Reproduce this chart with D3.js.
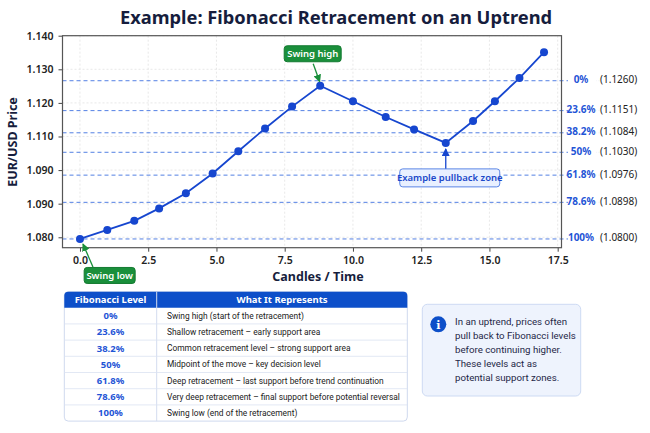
<!DOCTYPE html>
<html>
<head>
<meta charset="utf-8">
<script src="https://cdn.jsdelivr.net/npm/d3@7"></script>
<style>
  html, body { margin: 0; padding: 0; background: #ffffff; }
  svg { display: block; font-family: "Noto Sans", "Open Sans", sans-serif; }
</style>
</head>
<body>
<svg id="chart" width="650" height="433"></svg>
<script>
// ---------- DATA ----------
const candleX = [0, 1.0, 1.99, 2.9, 3.88, 4.86, 5.8, 6.78, 7.77, 8.8, 10.0, 11.2, 12.24, 13.4, 14.4, 15.2, 16.1, 17.0];
const priceY  = [1.0795, 1.0822, 1.0849, 1.0886, 1.0931, 1.0990, 1.1056, 1.1124, 1.1189, 1.1251,
                 1.1205, 1.1158, 1.1121, 1.1081, 1.1146, 1.1205, 1.1274, 1.1351];

const yTickValues = [1.08, 1.09, 1.10, 1.11, 1.12, 1.13, 1.14];
const yTickLabels = ["1.080", "1.090", "1.090", "1.110", "1.120", "1.130", "1.140"];
const xTickValues = [0, 2.5, 5, 7.5, 10, 12.5, 15, 17.5];
const xTickLabels = ["0.0", "2.5", "5.0", "7.5", "10.0", "12.5", "15.0", "17.5"];

const levelNames  = ["0%", "23.6%", "38.2%", "50%", "61.8%", "78.6%", "100%"];
const levelPrices = ["1.1260", "1.1151", "1.1084", "1.1030", "1.0976", "1.0898", "1.0800"];
const levelLineY  = [1.1266, 1.1177, 1.1111, 1.1053, 1.0985, 1.0904, 1.0795];

const tableHeader = ["Fibonacci Level", "What It Represents"];
const tableMeaning = [
  "Swing high (start of the retracement)",
  "Shallow retracement – early support area",
  "Common retracement level – strong support area",
  "Midpoint of the move – key decision level",
  "Deep retracement – last support before trend continuation",
  "Very deep retracement – final support before potential reversal",
  "Swing low (end of the retracement)"
];
const infoLines = [
  "In an uptrend, prices often",
  "pull back to Fibonacci levels",
  "before continuing higher.",
  "These levels act as",
  "potential support zones."
];

const titleText = "Example: Fibonacci Retracement on an Uptrend";
const xLabel = "Candles / Time";
const yLabel = "EUR/USD Price";

// ---------- STYLE ----------
const BLUE = "#1646cf";
const DARK = "#161d3d";
const GREEN = "#1a8f3b";
const HEADER = "#0d4fc9";
const BODY_FONT = "Roboto, 'Noto Sans', sans-serif";

const svg = d3.select("#chart");

const plot = { left: 62.5, right: 561.5, top: 35.7, bottom: 247.7 };

const x = d3.scaleLinear().domain([-0.64, 17.64]).range([plot.left, plot.right]);
const y = d3.scaleLinear().domain([1.0769, 1.140]).range([plot.bottom, plot.top]);

// defs: arrowheads
const defs = svg.append("defs");
function marker(id, color) {
  defs.append("marker").attr("id", id).attr("viewBox", "0 0 10 10")
    .attr("refX", 9).attr("refY", 5).attr("markerWidth", 6).attr("markerHeight", 6)
    .attr("orient", "auto-start-reverse")
    .append("path").attr("d", "M0,0 L10,5 L0,10 z").attr("fill", color);
}
marker("arrGreen", GREEN);
marker("arrBlue", BLUE);

// Title
svg.append("text").attr("x", 336).attr("y", 24).attr("text-anchor", "middle")
  .attr("font-size", 18.3).attr("font-weight", 700).attr("fill", DARK).text(titleText);

// grid
const g = svg.append("g");
g.selectAll(".vg").data(xTickValues.filter(v => x(v) < plot.right - 2)).join("line")
  .attr("x1", d => x(d)).attr("x2", d => x(d)).attr("y1", plot.top).attr("y2", plot.bottom)
  .attr("stroke", "#e2e2e2").attr("stroke-dasharray", "2,2").attr("stroke-width", 0.8);
g.selectAll(".hg").data(yTickValues).join("line")
  .attr("x1", plot.left).attr("x2", plot.right).attr("y1", d => y(d)).attr("y2", d => y(d))
  .attr("stroke", "#e2e2e2").attr("stroke-dasharray", "2,2").attr("stroke-width", 0.8);

// Fibonacci level lines
g.selectAll(".lvl").data(levelLineY).join("line")
  .attr("x1", plot.left).attr("x2", plot.right + 7).attr("y1", d => y(d)).attr("y2", d => y(d))
  .attr("stroke", "#3f72e0").attr("stroke-width", 0.9).attr("stroke-dasharray", "4,3");
g.selectAll(".lvl2").data(levelLineY).join("line")
  .attr("x1", plot.right + 7).attr("x2", 600).attr("y1", d => y(d)).attr("y2", d => y(d))
  .attr("stroke", "#e4e8f2").attr("stroke-width", 0.8).attr("stroke-dasharray", "1,2");

// level labels
levelLineY.forEach((v, i) => {
  svg.append("rect").attr("x", 568).attr("y", y(v) - 7).attr("width", 28).attr("height", 12).attr("fill", "#fff");
  svg.append("text").attr("x", 581).attr("y", y(v) - 1).attr("dy", "0.35em").attr("text-anchor", "middle")
    .attr("font-size", 10).attr("font-weight", 700).attr("fill", "#1f55d6").text(levelNames[i]);
  svg.append("text").attr("x", 600).attr("y", y(v) - 1).attr("dy", "0.35em")
    .attr("font-size", 10).attr("fill", "#222").text("(" + levelPrices[i] + ")");
});

// Axes
const yAxis = d3.axisLeft(y).tickValues(yTickValues).tickFormat((d, i) => yTickLabels[i]).tickSize(4).tickPadding(5);
const xAxis = d3.axisBottom(x).tickValues(xTickValues).tickFormat((d, i) => xTickLabels[i]).tickSize(4).tickPadding(5);
const ya = svg.append("g").attr("transform", `translate(${plot.left},0)`).call(yAxis);
const xa = svg.append("g").attr("transform", `translate(0,${plot.bottom})`).call(xAxis);
[ya, xa].forEach(a => {
  a.select(".domain").remove();
  a.selectAll(".tick line").attr("stroke", "#444");
  a.selectAll(".tick text").attr("font-size", 10.5).attr("font-weight", 600).attr("fill", "#222")
    .attr("font-family", "'Noto Sans', sans-serif");
});

// frame
svg.append("rect").attr("x", plot.left).attr("y", plot.top)
  .attr("width", plot.right - plot.left).attr("height", plot.bottom - plot.top)
  .attr("fill", "none").attr("stroke", "#555").attr("stroke-width", 1.2);

// axis labels
svg.append("text").attr("x", 318).attr("y", 281).attr("text-anchor", "middle")
  .attr("font-size", 12.5).attr("font-weight", 700).attr("fill", DARK).text(xLabel);
svg.append("text").attr("transform", "translate(17,142) rotate(-90)").attr("text-anchor", "middle")
  .attr("font-size", 12.5).attr("font-weight", 700).attr("fill", DARK).text(yLabel);

// price line
const pts = candleX.map((c, i) => [c, priceY[i]]);
svg.append("path").datum(pts)
  .attr("d", d3.line().x(d => x(d[0])).y(d => y(d[1])))
  .attr("fill", "none").attr("stroke", BLUE).attr("stroke-width", 1.8);
svg.selectAll(".pt").data(pts).join("circle")
  .attr("cx", d => x(d[0])).attr("cy", d => y(d[1])).attr("r", 4).attr("fill", BLUE);

// annotations
function labelBox(cx, cy, w, h, text, fill, stroke, color, weight) {
  svg.append("rect").attr("x", cx - w / 2).attr("y", cy - h / 2).attr("width", w).attr("height", h)
    .attr("rx", 3).attr("fill", fill).attr("stroke", stroke).attr("stroke-width", 1);
  svg.append("text").attr("x", cx).attr("y", cy).attr("dy", "0.35em").attr("text-anchor", "middle")
    .attr("font-size", 9.5).attr("font-weight", weight).attr("fill", color).text(text);
}
// swing high
const hi = pts[9];
svg.append("line").attr("x1", x(hi[0]) - 7).attr("y1", y(hi[1]) - 22).attr("x2", x(hi[0]) - 0.5).attr("y2", y(hi[1]) - 4)
  .attr("stroke", GREEN).attr("stroke-width", 1.3).attr("marker-end", "url(#arrGreen)");
labelBox(x(hi[0]) - 7.5, y(hi[1]) - 32, 57, 16, "Swing high", GREEN, "#137a30", "#fff", 600);
// swing low
const lo = pts[0];
svg.append("line").attr("x1", x(lo[0]) + 13).attr("y1", y(lo[1]) + 28).attr("x2", x(lo[0]) + 3).attr("y2", y(lo[1]) + 5)
  .attr("stroke", GREEN).attr("stroke-width", 1.3).attr("marker-end", "url(#arrGreen)");
labelBox(x(lo[0]) + 29.7, y(lo[1]) + 36.5, 51, 16, "Swing low", GREEN, "#137a30", "#fff", 600);
// pullback
const pb = pts[13];
svg.append("line").attr("x1", x(pb[0])).attr("y1", y(pb[1]) + 26).attr("x2", x(pb[0])).attr("y2", y(pb[1]) + 6)
  .attr("stroke", BLUE).attr("stroke-width", 1.3).attr("marker-end", "url(#arrBlue)");
labelBox(x(pb[0]) + 4, y(pb[1]) + 35, 100, 18, "Example pullback zone", "#e9f0ff", "#5b86e6", "#1b48c9", 600);

// ---------- TABLE ----------
const T = { x0: 64.3, x1: 407.3, y0: 291.7, hh: 16, rh: 16.2, split: 156.7 };
const tH = T.hh + T.rh * levelNames.length;
svg.append("rect").attr("x", T.x0).attr("y", T.y0).attr("width", T.x1 - T.x0).attr("height", tH)
  .attr("rx", 4).attr("fill", "#fff").attr("stroke", "#cfd9ee").attr("stroke-width", 1);
svg.append("path").attr("fill", HEADER)
  .attr("d", `M${T.x0},${T.y0 + T.hh} L${T.x0},${T.y0 + 4} Q${T.x0},${T.y0} ${T.x0 + 4},${T.y0} L${T.x1 - 4},${T.y0} Q${T.x1},${T.y0} ${T.x1},${T.y0 + 4} L${T.x1},${T.y0 + T.hh} Z`);
svg.append("line").attr("x1", T.split).attr("x2", T.split).attr("y1", T.y0).attr("y2", T.y0 + tH)
  .attr("stroke", "#d3dcef").attr("stroke-width", 1);
svg.append("text").attr("x", (T.x0 + T.split) / 2).attr("y", T.y0 + T.hh / 2).attr("dy", "0.35em")
  .attr("text-anchor", "middle").attr("font-size", 9.5).attr("font-weight", 700).attr("fill", "#fff").text(tableHeader[0]);
svg.append("text").attr("x", (T.split + T.x1) / 2).attr("y", T.y0 + T.hh / 2).attr("dy", "0.35em")
  .attr("text-anchor", "middle").attr("font-size", 9.5).attr("font-weight", 700).attr("fill", "#fff").text(tableHeader[1]);
levelNames.forEach((n, i) => {
  const ry = T.y0 + T.hh + i * T.rh;
  if (i > 0) svg.append("line").attr("x1", T.x0).attr("x2", T.x1).attr("y1", ry).attr("y2", ry)
    .attr("stroke", "#dbe2f1").attr("stroke-width", 0.8);
  svg.append("text").attr("x", (T.x0 + T.split) / 2).attr("y", ry + T.rh / 2).attr("dy", "0.35em")
    .attr("text-anchor", "middle").attr("font-size", 9.5).attr("font-weight", 700).attr("fill", "#1f55d6").text(n);
  svg.append("text").attr("x", 167).attr("y", ry + T.rh / 2).attr("dy", "0.35em")
    .attr("font-family", BODY_FONT).attr("font-size", 8.4).attr("fill", "#222").text(tableMeaning[i]);
});

// ---------- INFO BOX ----------
svg.append("rect").attr("x", 422.3).attr("y", 304.3).attr("width", 158.4).attr("height", 91.7)
  .attr("rx", 5).attr("fill", "#eef3fd").attr("stroke", "#cddaf3").attr("stroke-width", 1);
svg.append("circle").attr("cx", 438.3).attr("cy", 324.3).attr("r", 8).attr("fill", HEADER);
svg.append("text").attr("x", 438.3).attr("y", 324.8).attr("dy", "0.35em").attr("text-anchor", "middle")
  .attr("font-size", 11).attr("font-weight", 700).attr("font-family", "'DejaVu Serif', serif").attr("fill", "#fff").text("i");
infoLines.forEach((t, i) => {
  svg.append("text").attr("x", 455).attr("y", 321.7 + i * 14).attr("dy", "0.35em")
    .attr("font-family", BODY_FONT).attr("font-size", 9.7).attr("fill", "#1e2747").text(t);
});
</script>
</body>
</html>
